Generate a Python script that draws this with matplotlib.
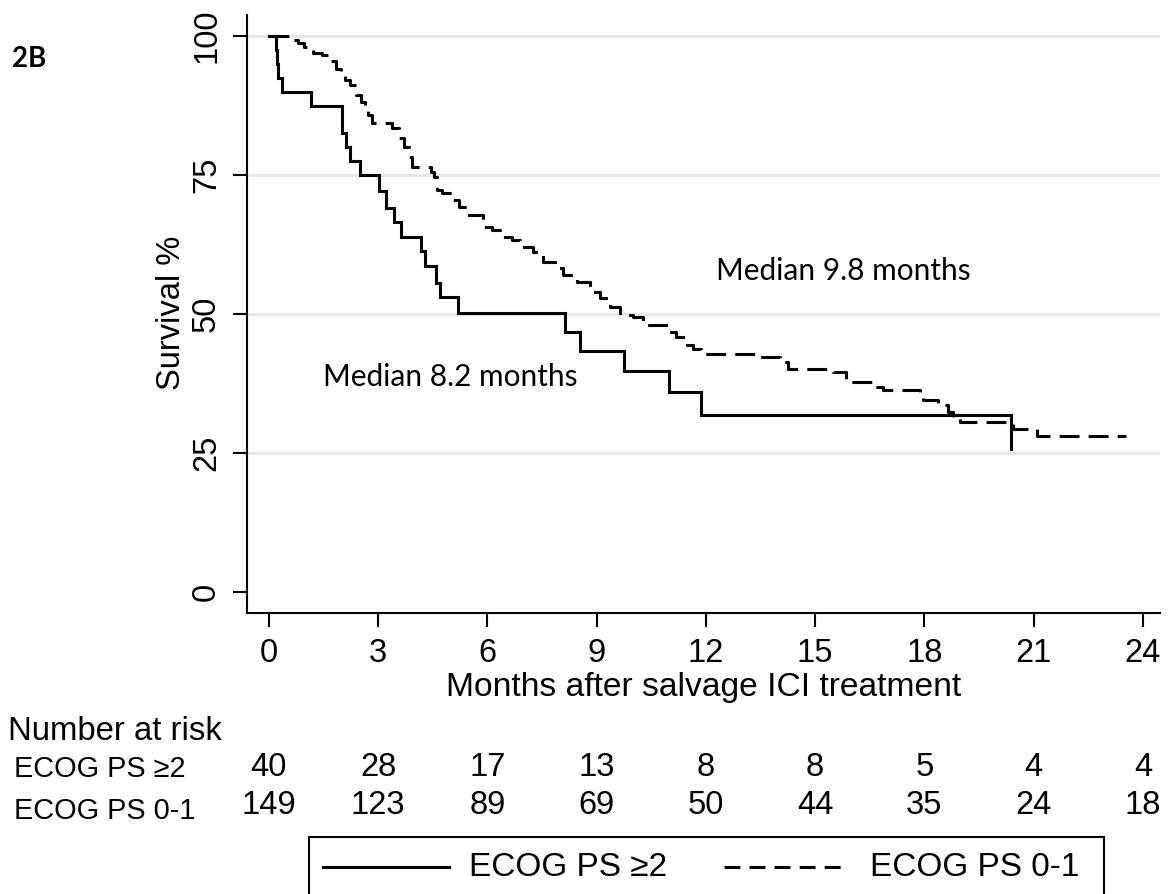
import matplotlib
matplotlib.use("Agg")
import matplotlib.pyplot as plt
import matplotlib.transforms as mtransforms
from matplotlib.patches import Rectangle
from matplotlib.lines import Line2D

# ---------------- data ----------------
# ECOG PS >=2 (solid): event times (months) and survival (%) after each step
poor_t = [0.0, 0.19, 0.22, 0.25, 0.35, 1.17, 2.02, 2.13, 2.22, 2.50, 3.02, 3.23, 3.44,
          3.62, 4.19, 4.28, 4.60, 4.70, 5.20, 8.13, 8.54, 9.75, 10.99, 11.86, 20.37, 20.37]
poor_s = [100.0, 97.5, 95.0, 92.5, 90.0, 87.5, 82.5, 80.0, 77.5, 75.0, 72.2, 69.1, 66.5,
          63.8, 61.4, 58.6, 55.6, 53.1, 50.2, 46.8, 43.4, 39.8, 35.9, 31.8, 25.8, 25.8]

# ECOG PS 0-1 (dashed)
good_t = [0.0, 0.67, 0.80, 0.97, 1.20, 1.45, 1.68, 1.85, 1.98, 2.10, 2.22, 2.38, 2.52,
          2.65, 2.72, 2.84, 3.39, 3.57, 3.71, 3.84, 3.94, 4.46, 4.53, 4.62, 4.76, 5.03,
          5.22, 5.43, 5.88, 6.13, 6.43, 6.68, 6.89, 7.26, 7.53, 7.90, 8.08, 8.45, 8.81,
          9.09, 9.36, 9.64, 10.0, 10.28, 10.96, 11.19, 11.47, 11.65, 11.88, 13.39, 14.03,
          14.26, 15.49, 15.86, 16.55, 16.87, 17.87, 17.97, 18.38, 18.65, 18.79, 18.97,
          20.44, 21.08, 23.55]
good_s = [100.0, 99.3, 98.7, 98.0, 97.0, 96.6, 95.6, 94.0, 93.0, 92.1, 91.2, 89.4, 88.2,
          86.5, 85.8, 84.3, 83.4, 81.6, 80.1, 78.3, 76.5, 75.6, 74.7, 72.3, 71.7, 70.5,
          69.3, 67.8, 65.7, 65.1, 63.9, 63.3, 62.1, 61.2, 59.4, 58.2, 57.0, 55.8, 54.0,
          52.8, 51.3, 49.8, 49.5, 48.0, 46.8, 45.9, 44.4, 43.8, 42.9, 42.3, 41.4,
          40.2, 39.6, 37.8, 36.9, 36.4, 35.4, 34.5, 33.6, 32.4, 31.5, 30.6,
          29.4, 28.1, 28.1]

risk_times = [0, 3, 6, 9, 12, 15, 18, 21, 24]
risk_poor = [40, 28, 17, 13, 8, 8, 5, 4, 4]
risk_good = [149, 123, 89, 69, 50, 44, 35, 24, 18]

x_ticks = [0, 3, 6, 9, 12, 15, 18, 21, 24]
y_ticks = [0, 25, 50, 75, 100]
grid_levels = [25, 50, 75, 100]

label_poor = "ECOG PS \u22652"
label_good = "ECOG PS 0-1"
median_poor = "Median 8.2 months"
median_good = "Median 9.8 months"

# ---------------- figure ----------------
W, H = 1171, 894
fig = plt.figure(figsize=(W / 100, H / 100), dpi=100)
sans = ["Liberation Sans", "DejaVu Sans"]
calib = ["Lato", "DejaVu Sans"]

def fx(px):
    return px / W

def fy(py):
    return 1 - py / H

ax = fig.add_axes([fx(247), fy(613), fx(1160) - fx(247), fy(15) - fy(613)])
ax.set_xlim(-0.60, 24.47)
ax.set_ylim(-3.78, 103.8)

for g in grid_levels:
    ax.axhline(g, color="#e6e6e6", lw=2.0, zorder=0)

ax.plot(poor_t, poor_s, drawstyle="steps-post", color="black", lw=2.2,
        solid_joinstyle="miter", zorder=3)
ax.plot(good_t, good_s, drawstyle="steps-post", color="black", lw=2.2,
        linestyle=(0, (6.5, 3.0)), zorder=3)

for side in ["top", "right"]:
    ax.spines[side].set_visible(False)
for side in ["left", "bottom"]:
    ax.spines[side].set_linewidth(1.5)

ax.set_xticks(x_ticks)
ax.set_yticks(y_ticks)
ax.tick_params(axis="both", direction="out", length=10, width=1.5, pad=8,
               labelsize=23.5)
for lab in ax.get_xticklabels():
    lab.set_family(sans)
for lab in ax.get_yticklabels():
    lab.set_family(sans)
    lab.set_rotation(90)
    lab.set_va("center")

ax.set_xlabel("Months after salvage ICI treatment", fontsize=24.2, family=sans,
              labelpad=2)
fig.text(fx(172), fy(313), "Survival %", rotation=90, fontsize=23.5, family=sans,
         ha="center", va="center")

ax.text(4.97, 38.7, median_poor, fontsize=21.5, family=calib,
        ha="center", va="center")
ax.text(15.77, 57.7, median_good, fontsize=21.5, family=calib,
        ha="center", va="center")

fig.text(fx(12), fy(59), "2B", fontsize=20, family=calib, weight="bold",
         ha="left", va="center")

# number at risk table
tr = mtransforms.blended_transform_factory(ax.transData, fig.transFigure)
fig.text(fx(8), fy(731), "Number at risk", fontsize=23.7, family=sans,
         ha="left", va="center")
fig.text(fx(14), fy(769), label_poor, fontsize=20.8, family=sans,
         ha="left", va="center")
fig.text(fx(14), fy(811), label_good, fontsize=20.8, family=sans,
         ha="left", va="center")
for t, n in zip(risk_times, risk_poor):
    ax.text(t, fy(768), str(n), transform=tr, fontsize=23.5, family=sans,
            ha="center", va="center", clip_on=False)
for t, n in zip(risk_times, risk_good):
    ax.text(t, fy(806), str(n), transform=tr, fontsize=23.5, family=sans,
            ha="center", va="center", clip_on=False)

# legend box
fig.patches.append(Rectangle((fx(309), fy(905)), fx(1104) - fx(309), fy(837) - fy(905),
                             transform=fig.transFigure, fill=False, lw=1.5,
                             edgecolor="black"))
fig.lines.append(Line2D([fx(323), fx(449)], [fy(867), fy(867)], transform=fig.transFigure,
                        color="black", lw=2.2))
fig.lines.append(Line2D([fx(724), fx(848)], [fy(867), fy(867)], transform=fig.transFigure,
                        color="black", lw=2.2, linestyle=(0, (5.2, 3.0))))
fig.text(fx(469), fy(867), label_poor, fontsize=24, family=sans, ha="left", va="center")
fig.text(fx(870), fy(867), label_good, fontsize=24, family=sans, ha="left", va="center")

fig.savefig("out.png", dpi=100)
